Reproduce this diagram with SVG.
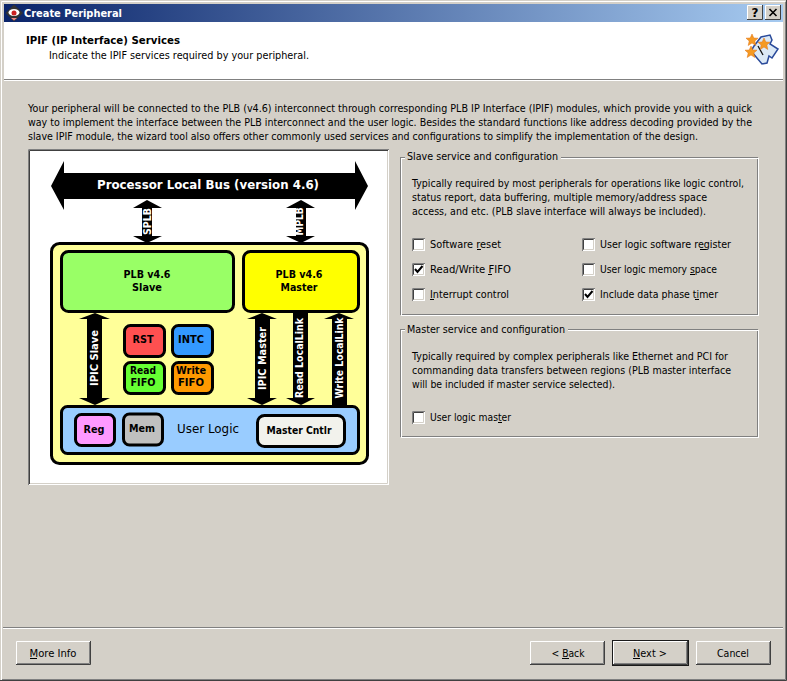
<svg xmlns="http://www.w3.org/2000/svg" width="787" height="681" viewBox="0 0 787 681">
<style>
text{font-family:"DejaVu Sans","Noto Sans",sans-serif;font-size:10.5px;fill:#000}
.p{font-size:10px}
.b{font-weight:bold}
.m{text-anchor:middle}
.w{fill:#fff}
.d{font-weight:bold;font-size:11px;text-anchor:middle}
.box{stroke:#000;stroke-width:3}
.arrow{fill:#000;stroke:none}
.gb{fill:none;stroke:#808080;stroke-width:1}
.gw{fill:none;stroke:#fff;stroke-width:1}
.hl{fill:none;stroke:#fff;stroke-width:1}
.sh{fill:none;stroke:#808080;stroke-width:1}
.dk{fill:none;stroke:#404040;stroke-width:1}
.chk{fill:none;stroke:#000;stroke-width:2}
.ul{fill:none;stroke:#000;stroke-width:1}
</style>
<defs>
<linearGradient id="tb" x1="0" x2="1" y1="0" y2="0"><stop offset="0" stop-color="#0a246a"/><stop offset="1" stop-color="#a6caf0"/></linearGradient>
<g id="star"><polygon points="0,-6 1.8,-2 6,-1.8 2.8,1 3.800,5.500 0,3 -3.800,5.500 -2.800,1 -6,-1.800 -1.800,-2" fill="#f59a23" stroke="#e07010" stroke-width=".5"/></g>
<g id="checkbox">
<rect x="0" y="0" width="13" height="13" fill="#fff"/>
<path d="M.5 13V.5H13" class="sh"/>
<path d="M1.500 12V1.500H12" class="dk"/>
<path d="M1.500 11.500H11.500V1.500" fill="none" stroke="#d4d0c8"/>
</g>
<g id="button">
<rect x="0" y="0" width="75" height="24" fill="#d4d0c8"/>
<path d="M.5 24V.5H75" class="hl"/>
<path d="M0 23.500H74.500V0" class="dk"/>
<path d="M1 22.500H73.500V1" class="sh"/>
</g>
</defs>

<g id="window">
<rect x="0" y="0" width="787" height="681" fill="#d4d0c8"/>
<path d="M1.500 680V1.500H785" fill="none" stroke="#fff"/>
<path d="M0 680.500H786.500V0" fill="none" stroke="#404040"/>
<path d="M2 679.500H785.500V2" fill="none" stroke="#808080"/>
<rect x="4" y="4" width="779" height="18" fill="url(#tb)"/>
<g id="app-icon">
<polygon points="14,4.500 23,13 14,21.500 5.500,13" fill="#333"/>
<ellipse cx="14" cy="12.500" rx="5.500" ry="3.500" fill="#fff"/>
<circle cx="14" cy="13" r="2.500" fill="#c22"/>
<path d="M11 18h6l-3 2.500z" fill="#e88"/>
</g>
<text x="24" y="17" class="b w" textLength="98" lengthAdjust="spacingAndGlyphs">Create Peripheral</text>
<g id="help-button">
<rect x="747" y="5" width="16" height="15" fill="#d4d0c8"/>
<path d="M747.500 20V5.500H763" class="hl"/>
<path d="M747 19.500H762.500V5" class="dk"/>
<text x="755" y="17" class="b m" style="font-size:12px">?</text>
</g>
<g id="close-button">
<rect x="765" y="5" width="16" height="15" fill="#d4d0c8"/>
<path d="M765.500 20V5.500H781" class="hl"/>
<path d="M765 19.500H780.500V5" class="dk"/>
<path d="M769.500 9l7 7m0-7l-7 7" stroke="#000" stroke-width="1.600" fill="none"/>
</g>
<rect x="4" y="22" width="779" height="57" fill="#fff"/>
<path d="M4 79.500H783" stroke="#808080"/>
<path d="M4 80.500H783" stroke="#fff"/>
<text x="26" y="44" class="b" textLength="154" lengthAdjust="spacingAndGlyphs">IPIF (IP Interface) Services</text>
<text x="49" y="59" textLength="260" lengthAdjust="spacingAndGlyphs">Indicate the IPIF services required by your peripheral.</text>
<g id="wizard-icon">
<path d="M761 37l9 -2 2 5 -2 4 8 5 -6 9 -3 -2 -2 7 -5 1 -11 -13 3 -5z" fill="#dbe9f6" stroke="#2a4a9a" stroke-width="1.500"/>
<path d="M758 46l5 9" stroke="#111" stroke-width="1.300"/>
<use href="#star" x="752" y="40"/>
<use href="#star" x="764" y="44"/>
<use href="#star" x="751" y="52"/>
</g>
<text x="28" y="112" class="p" textLength="724" lengthAdjust="spacingAndGlyphs">Your peripheral will be connected to the PLB (v4.6) interconnect through corresponding PLB IP Interface (IPIF) modules, which provide you with a quick</text>
<text x="28" y="126" class="p" textLength="724" lengthAdjust="spacingAndGlyphs">way to implement the interface between the PLB interconnect and the user logic. Besides the standard functions like address decoding provided by the</text>
<text x="28" y="140" class="p" textLength="670" lengthAdjust="spacingAndGlyphs">slave IPIF module, the wizard tool also offers other commonly used services and configurations to simplify the implementation of the design.</text>
</g>

<g id="diagram-panel">
<rect x="28" y="149" width="361" height="336" fill="#fff"/>
<path d="M28.500 485V149.500H389" class="sh"/>
<path d="M29.500 484V150.500H388" class="dk"/>
<path d="M30 483.500H387.500V151" fill="none" stroke="#d4d0c8"/>
</g>

<g id="plb-bus">
<polygon class="arrow" points="51,186 64,161 64,173 355,173 355,161 368,186 355,210 355,199 64,199 64,210"/>
<text x="208" y="189" class="m w b" style="font-size:13px" textLength="222" lengthAdjust="spacingAndGlyphs">Processor Local Bus (version 4.6)</text>
</g>

<g id="ipif-module">
<rect x="51.500" y="243.500" width="316" height="220" rx="8" fill="#ffff99" class="box"/>
</g>
<g id="plb-slave">
<rect x="61.500" y="251.500" width="172" height="60" rx="7" fill="#99ff66" class="box"/>
<text x="147" y="278" class="d" textLength="47" lengthAdjust="spacingAndGlyphs">PLB v4.6</text>
<text x="147" y="291" class="d" textLength="30" lengthAdjust="spacingAndGlyphs">Slave</text>
</g>
<g id="plb-master">
<rect x="243.500" y="251.500" width="115" height="60" rx="7" fill="#ffff00" class="box"/>
<text x="299" y="278" class="d" textLength="47" lengthAdjust="spacingAndGlyphs">PLB v4.6</text>
<text x="299" y="291" class="d" textLength="37" lengthAdjust="spacingAndGlyphs">Master</text>
</g>
<g id="rst">
<rect x="124.500" y="325.500" width="40" height="31" rx="6" fill="#ff5050" class="box"/>
<text x="143" y="343" class="d" textLength="21" lengthAdjust="spacingAndGlyphs">RST</text>
</g>
<g id="intc">
<rect x="172.500" y="325.500" width="40" height="31" rx="6" fill="#3399ff" class="box"/>
<text x="191" y="343" class="d" textLength="26" lengthAdjust="spacingAndGlyphs">INTC</text>
</g>
<g id="read-fifo">
<rect x="124.500" y="362.500" width="40" height="31" rx="6" fill="#66ff33" class="box"/>
<text x="143" y="374" class="d" textLength="26" lengthAdjust="spacingAndGlyphs">Read</text>
<text x="143" y="386" class="d" textLength="25" lengthAdjust="spacingAndGlyphs">FIFO</text>
</g>
<g id="write-fifo">
<rect x="172.500" y="362.500" width="40" height="31" rx="6" fill="#ff9900" class="box"/>
<text x="191" y="374" class="d" textLength="30" lengthAdjust="spacingAndGlyphs">Write</text>
<text x="191" y="386" class="d" textLength="26" lengthAdjust="spacingAndGlyphs">FIFO</text>
</g>
<g id="user-logic">
<rect x="61.500" y="406.500" width="297" height="47" rx="6" fill="#99ccff" class="box"/>
<text x="208" y="433" class="m" style="font-size:12px" textLength="62" lengthAdjust="spacingAndGlyphs">User Logic</text>
</g>
<g id="reg">
<rect x="75.500" y="414.500" width="39" height="31" rx="6" fill="#ff99ff" class="box"/>
<text x="94" y="433" class="d" textLength="21" lengthAdjust="spacingAndGlyphs">Reg</text>
</g>
<g id="mem">
<rect x="123.500" y="414" width="39" height="31" rx="6" fill="#c0c0c0" class="box"/>
<text x="142" y="432" class="d" textLength="26" lengthAdjust="spacingAndGlyphs">Mem</text>
</g>
<g id="master-cntlr">
<rect x="257.500" y="415.500" width="87" height="31" rx="7" fill="#f2f2ec" class="box"/>
<text x="299" y="434" class="d" textLength="65" lengthAdjust="spacingAndGlyphs">Master Cntlr</text>
</g>

<g id="connectors">
<g id="splb">
<polygon class="arrow" points="147,200 162,208 152,208 152,236 162,236 147,243 133,236 142,236 142,208 133,208"/>
<text transform="translate(151,221.500) rotate(-90)" class="d w" textLength="27" lengthAdjust="spacingAndGlyphs">SPLB</text>
</g>
<g id="mplb">
<polygon class="arrow" points="301,200 315,208 306,208 306,236 315,236 301,243 286,236 296,236 296,208 286,208"/>
<text transform="translate(303,221.500) rotate(-90)" class="d w" textLength="28" lengthAdjust="spacingAndGlyphs">MPLB</text>
</g>
<g id="ipic-slave">
<polygon class="arrow" points="95,313 110,319 102,319 102,398 110,398 95,405 79,398 87,398 87,319 79,319"/>
<text transform="translate(98,358) rotate(-90)" class="d w" textLength="56" lengthAdjust="spacingAndGlyphs">IPIC Slave</text>
</g>
<g id="ipic-master">
<polygon class="arrow" points="262,313 277,319 270,319 270,398 277,398 262,405 247,398 255,398 255,319 247,319"/>
<text transform="translate(266,358.500) rotate(-90)" class="d w" textLength="63" lengthAdjust="spacingAndGlyphs">IPIC Master</text>
</g>
<g id="read-locallink">
<polygon class="arrow" points="293,312 308,312 308,398 315,398 301,405 286,398 293,398"/>
<text transform="translate(303,358) rotate(-90)" class="d w" textLength="80" lengthAdjust="spacingAndGlyphs">Read LocalLink</text>
</g>
<g id="write-locallink">
<polygon class="arrow" points="339,313 354,319 347,319 347,405 332,405 332,319 324,319"/>
<text transform="translate(343,358) rotate(-90)" class="d w" textLength="81" lengthAdjust="spacingAndGlyphs">Write LocalLink</text>
</g>
</g>

<g id="slave-group">
<rect x="400.500" y="157.500" width="357" height="157" class="gb"/>
<rect x="401.500" y="158.500" width="357" height="157" class="gw"/>
<rect x="405" y="154" width="156" height="8" fill="#d4d0c8"/>
<text x="407" y="160" textLength="151" lengthAdjust="spacingAndGlyphs">Slave service and configuration</text>
<text x="412" y="187" textLength="332" lengthAdjust="spacingAndGlyphs">Typically required by most peripherals for operations like logic control,</text>
<text x="412" y="201" textLength="295" lengthAdjust="spacingAndGlyphs">status report, data buffering, multiple memory/address space</text>
<text x="412" y="215" textLength="294" lengthAdjust="spacingAndGlyphs">access, and etc. (PLB slave interface will always be included).</text>
<g id="cb-software-reset"><use href="#checkbox" x="412" y="238"/><text x="430" y="248" textLength="71" lengthAdjust="spacingAndGlyphs">Software reset</text><path d="M477 249.500h4" class="ul"/></g>
<g id="cb-fifo"><use href="#checkbox" x="412" y="263"/><path d="M415 269l2.500 3 5-6" class="chk"/><text x="430" y="273" textLength="81" lengthAdjust="spacingAndGlyphs">Read/Write FIFO</text><path d="M488 274.500h4" class="ul"/></g>
<g id="cb-interrupt"><use href="#checkbox" x="412" y="288"/><text x="430" y="298" textLength="79" lengthAdjust="spacingAndGlyphs">Interrupt control</text><path d="M430 299.500h4" class="ul"/></g>
<g id="cb-register"><use href="#checkbox" x="582" y="238"/><text x="600" y="248" textLength="131" lengthAdjust="spacingAndGlyphs">User logic software register</text><path d="M700 249.500h6" class="ul"/></g>
<g id="cb-memory"><use href="#checkbox" x="582" y="263"/><text x="600" y="273" textLength="117" lengthAdjust="spacingAndGlyphs">User logic memory space</text><path d="M690 274.500h5" class="ul"/></g>
<g id="cb-timer"><use href="#checkbox" x="582" y="288"/><path d="M585 294l2.500 3 5-6" class="chk"/><text x="600" y="298" textLength="118" lengthAdjust="spacingAndGlyphs">Include data phase timer</text><path d="M695 299.500h4" class="ul"/></g>
</g>

<g id="master-group">
<rect x="400.500" y="329.500" width="357" height="107" class="gb"/>
<rect x="401.500" y="330.500" width="357" height="107" class="gw"/>
<rect x="405" y="326" width="163" height="8" fill="#d4d0c8"/>
<text x="407" y="333" textLength="158" lengthAdjust="spacingAndGlyphs">Master service and configuration</text>
<text x="412" y="360" textLength="316" lengthAdjust="spacingAndGlyphs">Typically required by complex peripherals like Ethernet and PCI for</text>
<text x="412" y="374" textLength="319" lengthAdjust="spacingAndGlyphs">commanding data transfers between regions (PLB master interface</text>
<text x="412" y="388" textLength="203" lengthAdjust="spacingAndGlyphs">will be included if master service selected).</text>
<g id="cb-user-logic-master"><use href="#checkbox" x="412" y="411"/><text x="430" y="421" textLength="81" lengthAdjust="spacingAndGlyphs">User logic master</text><path d="M498 422.500h4" class="ul"/></g>
</g>

<g id="footer">
<path d="M3 627.500H783" stroke="#808080"/>
<path d="M3 628.500H783" stroke="#fff"/>
<g id="btn-more-info">
<use href="#button" x="16" y="641"/>
<text x="53" y="657" class="m" textLength="47" lengthAdjust="spacingAndGlyphs">More Info</text><path d="M30 658.500h7" class="ul"/>
</g>
<g id="btn-back">
<use href="#button" x="530" y="641"/>
<text x="568" y="657" class="m" textLength="33" lengthAdjust="spacingAndGlyphs">&lt; Back</text><path d="M562 658.500h7" class="ul"/>
</g>
<g id="btn-next">
<rect x="612" y="640" width="77" height="26" fill="#1a1a1a"/>
<use href="#button" x="613" y="641"/>
<text x="650" y="657" class="m" textLength="34" lengthAdjust="spacingAndGlyphs">Next &gt;</text><path d="M633 658.500h7" class="ul"/>
</g>
<g id="btn-cancel">
<use href="#button" x="696" y="641"/>
<text x="733" y="657" class="m" textLength="32" lengthAdjust="spacingAndGlyphs">Cancel</text>
</g>
</g>
</svg>
